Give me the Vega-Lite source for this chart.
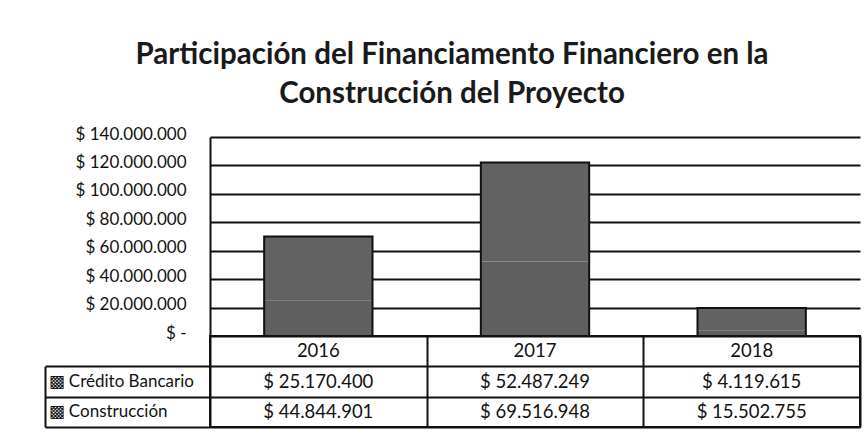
{
  "$schema": "https://vega.github.io/schema/vega-lite/v6.json",
  "background": "white",
  "padding": {"left": 43, "top": 39, "right": 7, "bottom": 9},
  "title": {
    "text": ["Participación del Financiamento Financiero en la", "Construcción del Proyecto"],
    "font": "Lato",
    "fontSize": 29.5,
    "fontWeight": "bold",
    "color": "#1a1a1a",
    "lineHeight": 39,
    "anchor": "middle",
    "offset": 16
  },
  "datasets": {
    "fin": [
      {"year": "2016", "serie": "Crédito Bancario", "value": 25170400},
      {"year": "2017", "serie": "Crédito Bancario", "value": 52487249},
      {"year": "2018", "serie": "Crédito Bancario", "value": 4119615},
      {"year": "2016", "serie": "Construcción", "value": 44844901},
      {"year": "2017", "serie": "Construcción", "value": 69516948},
      {"year": "2018", "serie": "Construcción", "value": 15502755}
    ]
  },
  "spacing": 0,
  "bounds": "flush",
  "vconcat": [
    {
      "width": 650,
      "height": 199,
      "view": {"stroke": null},
      "data": {"name": "fin"},
      "encoding": {
        "x": {
          "field": "year", "type": "nominal",
          "scale": {"paddingInner": 0.5, "paddingOuter": 0.25},
          "axis": null
        },
        "y": {
          "field": "value", "type": "quantitative",
          "scale": {"domain": [0, 140000000], "nice": false},
          "axis": {
            "title": null,
            "values": [0, 20000000, 40000000, 60000000, 80000000, 100000000, 120000000, 140000000],
            "format": "$,.0f",
            "labelExpr": "datum.value === 0 ? '$ -' : datum.label",
            "labelOverlap": false,
            "labelFont": "Lato",
            "labelFontSize": 17,
            "labelColor": "#111",
            "labelPadding": 24,
            "labelOffset": -3,
            "ticks": false,
            "domain": true,
            "domainColor": "#111",
            "domainWidth": 2,
            "grid": true,
            "gridColor": "#111",
            "gridWidth": 2,
            "gridOpacity": 1
          }
        }
      },
      "layer": [
        {
          "mark": {"type": "bar"},
          "encoding": {
            "y": {"field": "value", "type": "quantitative", "stack": "zero"},
            "color": {
              "field": "serie", "type": "nominal",
              "scale": {"domain": ["Crédito Bancario", "Construcción"], "range": ["#5f5f5f", "#626262"]},
              "legend": null
            },
            "order": {"field": "serie", "sort": "descending"}
          }
        },
        {
          "mark": {"type": "bar", "fill": null, "fillOpacity": 0, "stroke": "#111", "strokeWidth": 2},
          "encoding": {
            "y": {"aggregate": "sum", "field": "value", "type": "quantitative"}
          }
        }
      ]
    },
    {
      "width": 650,
      "height": 91,
      "view": {"stroke": "#111", "strokeWidth": 2},
      "data": {"name": "fin"},
      "resolve": {"axis": {"y": "independent", "x": "independent"}},
      "layer": [
        {
          "mark": {"type": "text", "font": "Lato", "fontSize": 18.5, "color": "#111"},
          "encoding": {
            "x": {
              "field": "year", "type": "nominal",
              "scale": {"paddingInner": 0, "paddingOuter": 0},
              "axis": {
                "orient": "top",
                "title": null,
                "labels": false,
                "ticks": false,
                "domain": false,
                "grid": true,
                "tickBand": "extent",
                "gridColor": "#111",
                "gridWidth": 2,
                "gridOpacity": 1,
                "minExtent": 0,
                "maxExtent": 0
              }
            },
            "y": {
              "field": "serie", "type": "nominal",
              "scale": {"domain": ["hdr", "Crédito Bancario", "Construcción"], "paddingInner": 0, "paddingOuter": 0},
              "axis": {
                "orient": "left",
                "title": null,
                "offset": 165,
                "tickOffset": 15.17,
                "labelOffset": -15.17,
                "labelExpr": "datum.value === 'hdr' ? '' : '▩ ' + datum.value",
                "labelAlign": "left",
                "labelFont": "Lato",
                "labelFontSize": 17,
                "labelColor": "#111",
                "labelPadding": 162,
                "labelLimit": 0,
                "ticks": true,
                "tickSize": -165,
                "tickColor": "#111",
                "tickWidth": 2,
                "domain": true,
                "domainColor": "#111",
                "domainWidth": 2,
                "domainDash": [0, 30.33, 61],
                "grid": true,
                "gridColor": "#111",
                "gridWidth": 2,
                "gridOpacity": 1
              }
            },
            "text": {"field": "value", "type": "quantitative", "format": "$,.0f"}
          }
        },
        {
          "transform": [{"filter": "datum.serie === 'Crédito Bancario'"}],
          "mark": {"type": "text", "font": "Lato", "fontSize": 18.5, "color": "#111"},
          "encoding": {
            "x": {"field": "year", "type": "nominal", "axis": null},
            "y": {"datum": "hdr", "type": "nominal", "axis": null},
            "text": {"field": "year", "type": "nominal"}
          }
        }
      ]
    }
  ],
  "config": {
    "locale": {
      "number": {"decimal": ",", "thousands": ".", "grouping": [3], "currency": ["$ ", ""]}
    }
  }
}
